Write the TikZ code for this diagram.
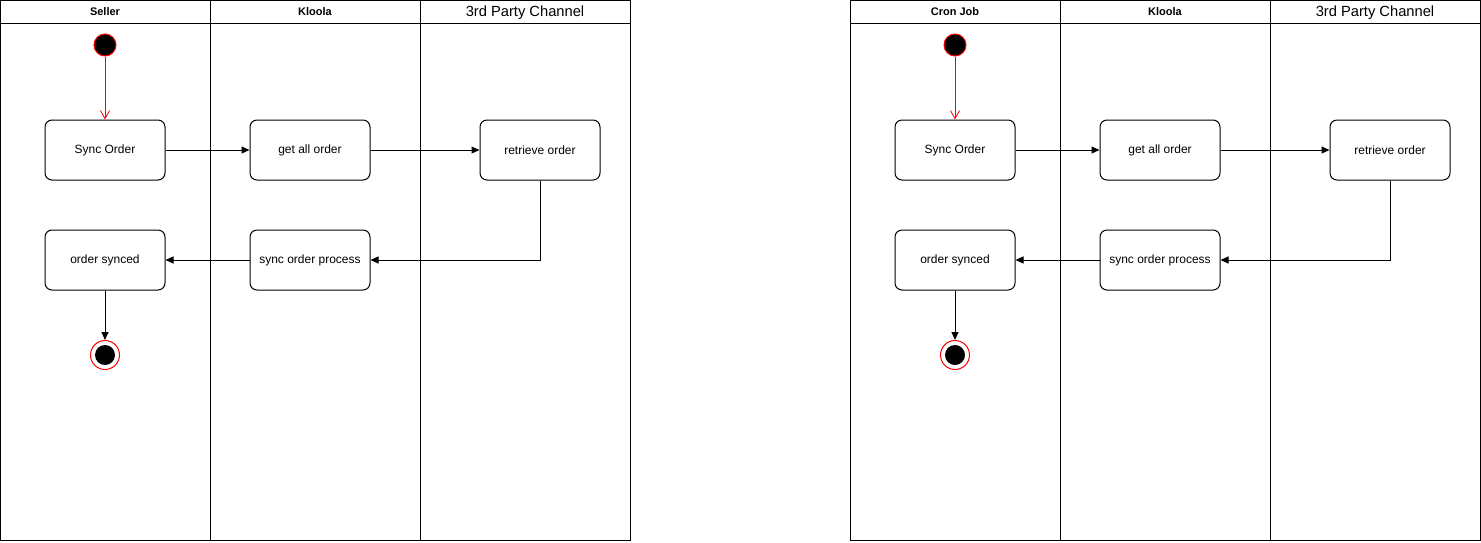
\documentclass[tikz,border=0pt]{standalone}
\usepackage{fontspec}
\setmainfont{Liberation Sans}
\usetikzlibrary{arrows.meta}
\tikzset{
  act/.style={draw=black, line width=1pt, rounded corners=7pt, minimum width=120pt, minimum height=60pt, inner sep=0pt, font=\fontsize{12}{14}\selectfont, fill=white},
  lane/.style={draw=black, line width=1pt},
  hdr/.style={font=\bfseries\fontsize{11}{13}\selectfont},
  hdrn/.style={font=\fontsize{14.7}{16}\selectfont},
  startnode/.style={circle, fill=black, draw=red, line width=1pt, minimum size=22pt, inner sep=0pt},
  endin/.style={circle, fill=black, minimum size=20pt, inner sep=0pt},
  endout/.style={circle, fill=white, draw=red, line width=1pt, minimum size=29pt, inner sep=0pt},
  flow/.style={line width=1pt, -{Triangle[length=8pt,width=7pt]}},
  initflow/.style={draw=red, line width=0.8pt, -{Straight Barb[length=8pt,width=9pt,line width=0.8pt]}},
}
\begin{document}
\begin{tikzpicture}[x=1pt,y=-1pt]
\useasboundingbox (0,0) rectangle (1481,542);
\foreach \ox/\first/\pre in {0/Seller/L,850/Cron Job/R}{
  \begin{scope}[xshift=\ox pt]
    \draw[lane] (0.5,0.5) rectangle (630,540);
    \draw[lane] (0.5,23) -- (630,23);
    \draw[lane] (210,0.5) -- (210,540);
    \draw[lane] (420,0.5) -- (420,540);
    \node[hdr] (\pre h1) at (105,12) {\first};
    \node[hdr] (\pre h2) at (315,12) {Kloola};
    \node[hdrn] (\pre h3) at (525,12.5) {3rd Party Channel};
    \node[startnode] (\pre s) at (105,45) {};
    \node[act] (\pre a) at (105,150) {Sync Order};
    \node[act] (\pre b) at (310,150) {get all order};
    \node[act] (\pre c) at (540,150) {retrieve order};
    \node[act] (\pre d) at (310,260) {sync order process};
    \node[act] (\pre e) at (105,260) {order synced};
    \node[endout] (\pre f) at (105,355) {};
    \node[endin] (\pre fi) at (105,355) {};
    \draw[initflow] (\pre s) -- (\pre a);
    \draw[flow] (\pre a) -- (\pre b);
    \draw[flow] (\pre b) -- (\pre c);
    \draw[flow] (\pre c.south) |- (\pre d.east);
    \draw[flow] (\pre d) -- (\pre e);
    \draw[flow] (\pre e) -- (\pre f);
  \end{scope}
}
\end{tikzpicture}
\end{document}
